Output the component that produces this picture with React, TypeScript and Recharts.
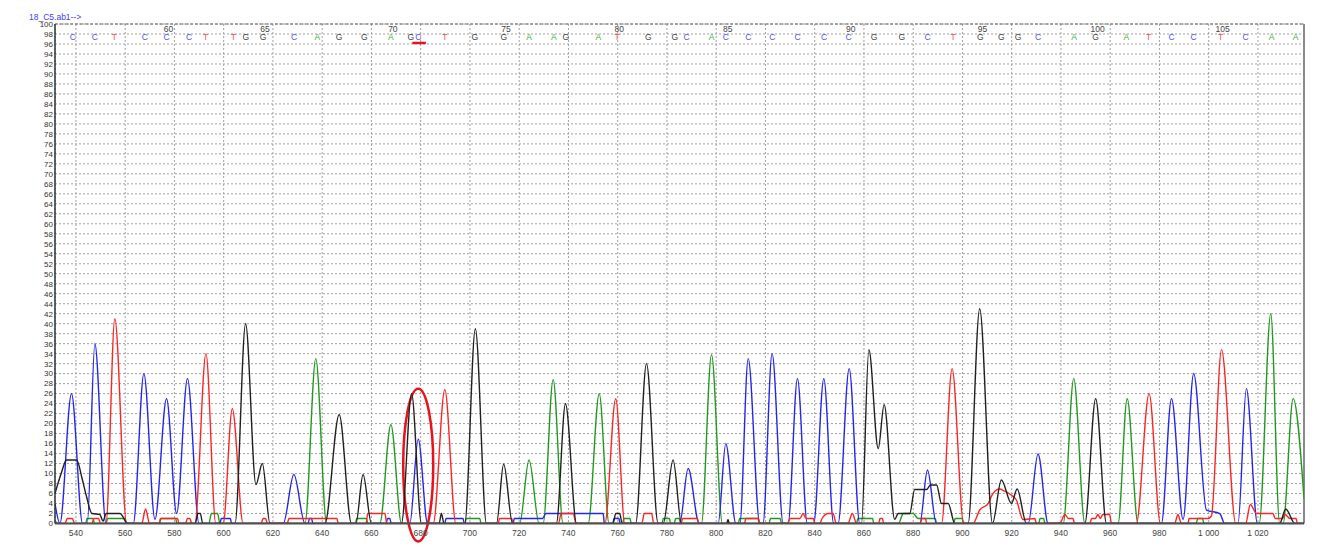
import React from 'react';
import {
  ComposedChart,
  Line,
  XAxis,
  YAxis,
  CartesianGrid,
  ReferenceLine,
  ReferenceArea,
} from 'recharts';

// ---------- data ----------
const TITLE = '18_C5.ab1-->';
const X_MIN = 531.5;
const X_MAX = 1038.7;
const X_TICKS = [540, 560, 580, 600, 620, 640, 660, 680, 700, 720, 740, 760, 780, 800, 820, 840, 860, 880, 900, 920, 940, 960, 980, 1000, 1020];
const Y_TICKS = Array.from({ length: 51 }, (_, i) => i * 2);

const BASE_CALLS = 'CCTCCCTTGGCAGGAGCTGGAAGATGGCACCCCCCGGCTGGGCAGATCCTCAA';
const FIRST_BASE_NUMBER = 56;
const BASE_POS = [
  538.7, 547.7, 555.6, 568.0, 576.8, 585.9, 592.7, 603.9, 609.0, 616.0,
  628.6, 638.0, 646.9, 657.1, 667.9, 676.0, 679.0, 689.8, 702.0, 713.8,
  724.0, 734.1, 738.9, 752.1, 759.8, 772.4, 783.2, 788.0, 798.1, 803.9,
  813.0, 822.8, 833.0, 843.8, 853.8, 864.1, 875.4, 885.8, 896.2, 907.3,
  915.8, 922.6, 930.7, 945.3, 954.1, 966.6, 975.6, 984.9, 993.9, 1004.8,
  1015.0, 1025.5, 1035.3,
];
const BASE_ROW_Y = 97.4;
const NUMBER_ROW_Y = 99.0;

// trace points [scan, signal]
const TRACE_A: [number, number][] = [
  [531.5, 0.5], [533, 0], [544, 0], [544.5, 1], [547, 1], [547.5, 0], [552.3, 0], [552.8, 1], [560, 1], [560.5, 0],
  [574, 0], [574.5, 1], [580.5, 1], [581, 0], [594, 0], [595, 2], [597.5, 2], [598.5, 0], [633, 0], [637.4, 33],
  [641.8, 0], [653.5, 0], [654, 1], [658, 1], [658.5, 0], [663.4, 0], [667.9, 19.8], [672.2, 0], [698, 0], [698.5, 1],
  [704, 1], [704.5, 0], [720.2, 0], [724, 12.7], [728.1, 0], [729.7, 0], [733.8, 28.8], [737.8, 0], [748, 0], [752.5, 26],
  [756.5, 0], [762, 0], [762.5, 1], [765, 1], [765.5, 0], [778, 0], [778.5, 1], [781, 1], [781.5, 0], [783, 0],
  [783.5, 1], [785, 1], [785.5, 0], [794, 0], [798.1, 33.8], [802.5, 0], [809, 0], [809.5, 1], [817, 1], [817.5, 0],
  [821.5, 0], [822, 1], [826, 1], [826.5, 0], [857, 0], [857.5, 1], [863.5, 1], [864, 0], [874, 0], [876, 2],
  [880, 2], [882, 1], [889, 1], [889.5, 0], [896.5, 0], [897, 1], [900, 1], [900.5, 0], [931, 0], [931.5, 1],
  [933, 1], [933.5, 0], [940.9, 0], [945.2, 29], [949.7, 0], [963.2, 0], [966.9, 25], [971.3, 0], [995, 0], [995.5, 1],
  [997.5, 1], [998, 0], [1020.5, 0], [1025.2, 42], [1028.8, 0], [1030.2, 0], [1034.3, 25], [1038.7, 5],
];

const TRACE_C: [number, number][] = [
  [531.5, 4], [533.5, 0], [538.2, 26], [542.7, 0], [544.6, 0], [547.7, 36], [552.2, 0], [563.3, 0], [567.6, 30], [572.1, 0.8],
  [576.8, 25], [580.9, 2], [585.3, 29], [590, 0], [598.5, 0], [599, 1], [602.7, 1], [603.2, 0], [624.2, 0], [628.5, 9.8],
  [633, 0], [634.3, 0], [634.8, 1], [635.7, 1], [636.2, 0], [666, 0], [666.5, 1], [667.5, 1], [668, 0], [675.6, 0],
  [679, 16.9], [682.8, 0], [689.8, 0], [690.3, 1], [697.2, 1], [697.7, 0], [717.5, 0], [718, 1], [729.5, 1], [730.8, 2],
  [754.1, 2], [754.6, 0], [758, 0], [758.5, 1], [760.5, 1], [761, 0], [785.2, 0], [788.6, 11], [793.1, 0], [800.8, 0],
  [803.9, 16], [808, 0], [809.6, 0], [813, 33], [817.7, 0], [819, 0], [822.7, 34], [827.2, 0], [829.2, 0], [833, 29],
  [837, 0], [839.6, 0], [843.7, 29], [847.7, 0], [849.5, 0], [854, 31], [858.3, 0], [882.7, 0], [885.8, 10.7], [889.4, 0],
  [926.7, 0], [930.7, 13.9], [934.8, 0], [980.8, 0], [984.9, 25], [989.6, 0.8], [993.9, 30], [999.1, 2.7], [1004.5, 2], [1006.5, 0],
  [1011.9, 0], [1015.3, 27], [1019.8, 0], [1038.7, 0],
];

const TRACE_G: [number, number][] = [
  [531.5, 6], [534, 10], [536.2, 12.7], [540.3, 12.7], [542.5, 9], [544.3, 5.4], [546.5, 2], [549.7, 1.8], [551, 0.5], [552.3, 2],
  [557.9, 2], [561, 0], [588.5, 0], [589.5, 2], [590.5, 2], [591.5, 0], [604.6, 0], [608.9, 40], [613.1, 7.8], [615.7, 12],
  [618.8, 0], [641.1, 0], [646.9, 21.8], [651.9, 0], [653.7, 0], [656.6, 9.8], [660, 0], [672.2, 0], [676.3, 26], [680.3, 0],
  [687.5, 0], [688.4, 2], [689.5, 0], [697.9, 0], [702.2, 39], [706.7, 0], [710.8, 0], [713.7, 11.9], [717.3, 0], [735.1, 0],
  [738.8, 24], [743.3, 0], [758.1, 0], [759.2, 2], [760.8, 2], [761.8, 0], [767.3, 0], [771.7, 32], [776.4, 0], [778.5, 0],
  [782.5, 12.7], [785.9, 0], [804.3, 0], [804.8, 0.8], [805.3, 0], [859, 0], [862, 34.8], [865.8, 15], [868.2, 23.8], [872.5, 0.8],
  [873.9, 2], [878.6, 2], [880.6, 6.8], [885.4, 6.8], [887, 7.7], [889.5, 7.7], [891.5, 4], [894.2, 4], [896.9, 0], [902.3, 0],
  [907, 43], [912.2, 0], [915.8, 8.7], [919.9, 4], [922.2, 6.9], [926, 0], [949.7, 0], [954.1, 25], [958.5, 0], [1028.8, 0],
  [1031.3, 2.9], [1035, 0], [1038.7, 0],
];

const TRACE_T: [number, number][] = [
  [531.5, 0], [535.5, 0], [536.5, 1], [538.5, 1], [539.5, 0], [546.5, 0], [547.3, 1], [549.2, 1], [550, 0], [552.2, 0],
  [555.8, 41], [560.6, 0], [566.7, 0], [568.3, 2.9], [569.9, 0], [573.8, 0], [574.3, 1], [581.3, 1], [581.8, 0], [584.5, 0],
  [585.3, 1], [586.3, 1], [587, 0], [588.3, 0], [592.8, 34], [596.8, 0], [599.8, 0], [603.5, 23], [607.9, 0], [615.2, 0],
  [616, 1], [617, 1], [617.8, 0], [625.8, 0], [626.5, 1], [646, 1], [646.5, 0], [657.8, 0], [658.5, 2], [665.5, 2],
  [666.2, 0], [685.1, 0], [689.8, 26.8], [694.3, 0], [711.5, 0], [712, 1], [717, 1], [717.5, 0], [736, 0], [737, 2],
  [742, 2], [743, 0], [754.8, 0], [759.2, 25], [762.9, 0], [769.8, 0], [770.8, 2], [773.8, 2], [774.6, 0], [785.8, 0],
  [786.3, 1], [792.4, 1], [792.9, 0], [811.5, 0], [812, 1], [817.2, 1], [817.7, 0], [829, 0], [830, 1], [834, 1],
  [835.3, 2], [836.5, 1], [839.5, 1], [840, 0], [842, 0], [843, 1], [845.5, 2], [847.5, 2], [848.7, 0], [853.5, 0],
  [855.3, 2], [857, 0], [866, 0], [866.5, 1], [867.5, 1], [868, 0], [883, 0], [883.5, 1], [885, 1], [885.5, 0],
  [891.5, 0], [895.8, 31], [900.5, 0], [904.3, 0], [907, 2.7], [910.4, 4], [912.4, 6], [915.1, 6.9], [917, 6.5], [919.2, 5.9],
  [921.9, 4.7], [924.6, 0.8], [929.4, 1], [930, 0], [939.5, 0], [941.6, 1.8], [943, 1], [944.9, 1], [945.5, 0], [951.7, 0],
  [952.5, 1], [954, 1], [955, 1.8], [956, 1], [957, 1.8], [959.8, 1.8], [960.5, 0], [970.6, 0], [975.8, 26], [980.4, 0],
  [986.2, 0], [987.5, 1.8], [988.9, 0], [991.6, 0], [992, 1], [999.7, 1], [1001.1, 1.5], [1005.2, 34.8], [1011, 0], [1015, 0],
  [1016.9, 3.8], [1019.4, 2], [1026.1, 2], [1027, 1], [1030, 1], [1031, 1.8], [1033, 1], [1035.5, 1], [1036, 0], [1038.7, 0],
];

// annotation (red ellipse around the mixed peak and underline under the base call)
const MARK_X: [number, number] = [672.9, 685.1];
const MARK_Y: [number, number] = [-3.6, 27];
const UNDERLINE_X: [number, number] = [676.6, 682.1];
const UNDERLINE_Y = 96.2;

// ---------- styles ----------
const COLORS: Record<string, string> = { A: '#1f9a1f', C: '#2424f0', G: '#202020', T: '#ff2424' };
const LETTER_COLORS: Record<string, string> = { A: '#3aae3a', C: '#5050ff', G: '#444444', T: '#ff4a4a' };
const FONT = '"Liberation Sans", Arial, sans-serif';

const toRows = (pts: [number, number][]) => pts.map(([x, y]) => ({ x, y }));

const baseRows = BASE_CALLS.split('').map((b, i) => ({ x: BASE_POS[i], y: BASE_ROW_Y, base: b }));
const numberRows = BASE_POS.map((x, i) => ({ x, y: NUMBER_ROW_Y, num: FIRST_BASE_NUMBER + i })).filter(
  (r) => r.num % 5 === 0,
);

const fmtX = (v: number) => (v >= 1000 ? `${Math.floor(v / 1000)} ${String(v % 1000).padStart(3, '0')}` : String(v));

const BaseLetter = (props: any) => {
  const { cx, cy, payload, index } = props;
  if (cx == null || cy == null) return <g key={`b${index}`} />;
  return (
    <text
      key={`b${index}`}
      x={cx}
      y={cy}
      textAnchor="middle"
      dominantBaseline="central"
      fontSize={8.5}
      fontFamily={FONT}
      fill={LETTER_COLORS[payload.base]}
    >
      {payload.base}
    </text>
  );
};

const BaseNumber = (props: any) => {
  const { cx, cy, payload, index } = props;
  if (cx == null || cy == null) return <g key={`n${index}`} />;
  return (
    <text
      key={`n${index}`}
      x={cx + 2}
      y={cy}
      textAnchor="middle"
      dominantBaseline="central"
      fontSize={8.5}
      fontFamily={FONT}
      fill="#444"
    >
      {payload.num}
    </text>
  );
};

const EllipseShape = (props: any) => {
  const { x, y, width, height } = props;
  return (
    <ellipse
      cx={x + width / 2}
      cy={y + height / 2}
      rx={Math.abs(width) / 2}
      ry={Math.abs(height) / 2}
      fill="none"
      stroke="#e8121c"
      strokeWidth={2.5}
    />
  );
};

const LINE_W = 1.4;

export default function App() {
  return (
    <div style={{ position: 'relative', width: 1314, height: 540, fontFamily: FONT }}>
      <style>{'html,body{overflow:hidden}'}</style>
      <div
        style={{
          position: 'absolute',
          left: 21,
          top: 4.5,
          fontSize: 8.5,
          lineHeight: '9px',
          color: '#4040ff',
          fontFamily: FONT,
          whiteSpace: 'nowrap',
        }}
      >
        {TITLE}
      </div>
      <ComposedChart width={1314} height={540} margin={{ top: 16, right: 18, bottom: 0, left: 0 }}>
        <CartesianGrid stroke="#a0a0a0" strokeDasharray="2 2" />
        <XAxis
          type="number"
          dataKey="x"
          domain={[X_MIN, X_MAX]}
          allowDataOverflow
          ticks={X_TICKS}
          interval={0}
          tickFormatter={fmtX}
          height={24.5}
          tickSize={0}
          tickMargin={6}
          axisLine={{ stroke: '#505050', strokeWidth: 2 }}
          tick={{ fontSize: 8.5, fill: '#444', fontFamily: FONT }}
        />
        <YAxis
          type="number"
          domain={[0, 100]}
          allowDataOverflow
          ticks={Y_TICKS}
          interval={0}
          width={47}
          tickSize={0}
          tickMargin={2}
          axisLine={{ stroke: '#303030', strokeWidth: 1.5 }}
          tick={{ fontSize: 8, fill: '#333', fontFamily: FONT }}
        />
        <ReferenceLine y={100} stroke="#666" strokeDasharray="3 2" />
        <ReferenceLine x={X_MAX} stroke="#8a8a8a" strokeWidth={2} />
        <Line data={toRows(TRACE_A)} dataKey="y" type="monotone" stroke={COLORS.A} strokeWidth={LINE_W} dot={false} isAnimationActive={false} />
        <Line data={toRows(TRACE_C)} dataKey="y" type="monotone" stroke={COLORS.C} strokeWidth={LINE_W} dot={false} isAnimationActive={false} />
        <Line data={toRows(TRACE_T)} dataKey="y" type="monotone" stroke={COLORS.T} strokeWidth={LINE_W} dot={false} isAnimationActive={false} />
        <Line data={toRows(TRACE_G)} dataKey="y" type="monotone" stroke={COLORS.G} strokeWidth={LINE_W} dot={false} isAnimationActive={false} />
        <Line data={baseRows} dataKey="y" stroke="none" dot={BaseLetter} activeDot={false} isAnimationActive={false} />
        <Line data={numberRows} dataKey="y" stroke="none" dot={BaseNumber} activeDot={false} isAnimationActive={false} />
        <ReferenceLine
          segment={[
            { x: UNDERLINE_X[0], y: UNDERLINE_Y },
            { x: UNDERLINE_X[1], y: UNDERLINE_Y },
          ]}
          stroke="#e8121c"
          strokeWidth={2.5}
          ifOverflow="visible"
        />
        <ReferenceArea
          x1={MARK_X[0]}
          x2={MARK_X[1]}
          y1={MARK_Y[0]}
          y2={MARK_Y[1]}
          ifOverflow="visible"
          shape={EllipseShape}
        />
      </ComposedChart>
      <div
        style={{
          position: 'absolute',
          left: 0,
          top: 540,
          width: 1314,
          height: 6,
          background: '#e6e6e6',
          borderLeft: '10px solid #dcdcdc',
          boxSizing: 'border-box',
        }}
      />
    </div>
  );
}
